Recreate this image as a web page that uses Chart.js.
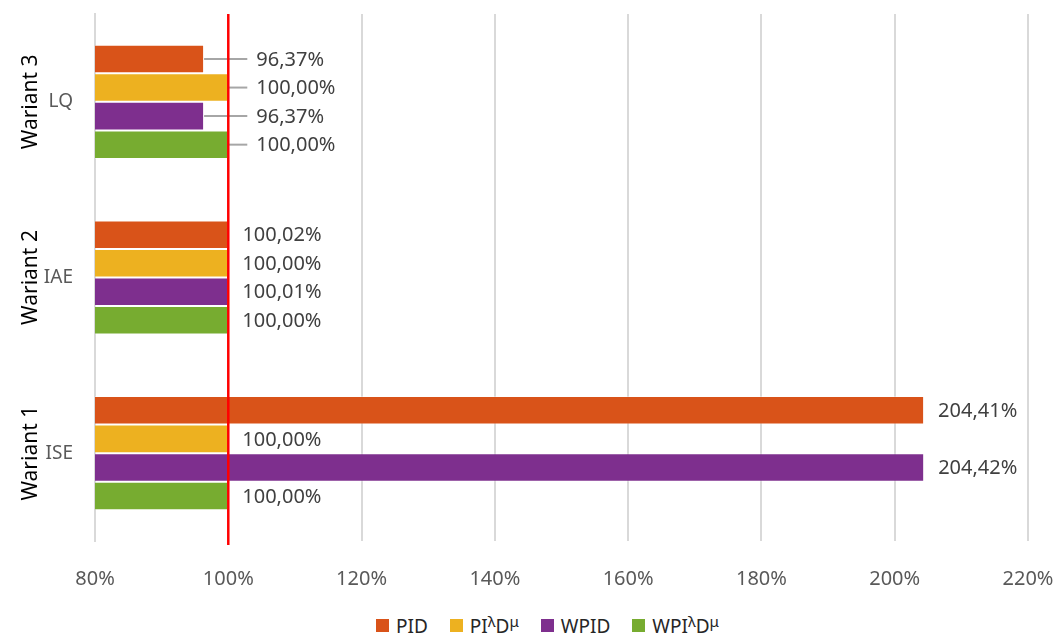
<!DOCTYPE html>
<html>
<head>
<meta charset="utf-8">
<script src="https://cdn.jsdelivr.net/npm/chart.js@4.4.1/dist/chart.umd.min.js"></script>
<style>
  html, body { margin: 0; padding: 0; background: #fff; }
  body { width: 1055px; height: 639px; overflow: hidden; font-family: "Noto Sans", sans-serif; }
  canvas { display: block; }
  #legend { display: flex; justify-content: center; align-items: center; height: 39px; font-size: 19px; color: #262626; padding-left: 40px; margin-top: 6px; }
  .item { display: flex; align-items: center; margin: 0 11px; }
  .box { width: 13px; height: 13px; margin-right: 7px; }
  sup { font-size: 15px; vertical-align: 6px; line-height: 0; }
</style>
</head>
<body>
<canvas id="chart" width="1055" height="600"></canvas>
<div id="legend"></div>
<script>
// categories, top to bottom
const categories = ["LQ", "IAE", "ISE"];
const groupNames = ["Wariant 3", "Wariant 2", "Wariant 1"];

// series values (%)
const pidValues = [96.37, 100.02, 204.41];
const pildmValues = [100.00, 100.00, 100.00];
const wpidValues = [96.37, 100.01, 204.42];
const wpildmValues = [100.00, 100.00, 100.00];

const seriesNames = ["PID", "PI<sup>λ</sup>D<sup>μ</sup>", "WPID", "WPI<sup>λ</sup>D<sup>μ</sup>"];
const seriesLabels = ["PID", "PIλDμ", "WPID", "WPIλDμ"];
const colors = ["#D95319", "#EDB120", "#7E2F8E", "#77AC30"];

// x axis
const xMin = 80, xMax = 220, xStep = 20;
const refLine = 100;

const fmt = (v) => v.toFixed(2).replace(".", ",") + "%";

// value labels; first group gets callout lines
const valueLabels = {
  id: "valueLabels",
  afterDatasetsDraw(chart) {
    const ctx = chart.ctx;
    const x = chart.scales.x;
    ctx.save();
    ctx.font = "20px 'Noto Sans'";
    ctx.fillStyle = "#404040";
    ctx.textBaseline = "middle";
    ctx.textAlign = "left";
    categories.forEach((c, i) => {
      const callout = i === 0;
      chart.data.datasets.forEach((ds, di) => {
        const bar = chart.getDatasetMeta(di).data[i];
        const end = x.getPixelForValue(ds.data[i]);
        let tx = end + 14;
        if (callout) {
          tx = x.getPixelForValue(refLine) + 28;
          ctx.strokeStyle = "#a6a6a6";
          ctx.lineWidth = 2;
          ctx.beginPath();
          ctx.moveTo(end, bar.y);
          ctx.lineTo(tx - 9, bar.y);
          ctx.stroke();
        }
        ctx.fillText(fmt(ds.data[i]), tx, bar.y + 1);
      });
    });
    ctx.restore();
  }
};

// red reference line and group names
const extras = {
  id: "extras",
  afterDatasetsDraw(chart) {
    const ctx = chart.ctx;
    const area = chart.chartArea;
    const px = chart.scales.x.getPixelForValue(refLine);
    ctx.save();
    ctx.strokeStyle = "#ff0000";
    ctx.lineWidth = 2.5;
    ctx.beginPath();
    ctx.moveTo(px, area.top);
    ctx.lineTo(px, area.bottom + 4);
    ctx.stroke();

    ctx.fillStyle = "#000";
    ctx.font = "21px 'Noto Sans'";
    ctx.textAlign = "center";
    ctx.textBaseline = "middle";
    groupNames.forEach((g, i) => {
      const y = chart.scales.y.getPixelForValue(i);
      ctx.save();
      ctx.translate(31, y);
      ctx.rotate(-Math.PI / 2);
      ctx.fillText(g, 0, 0);
      ctx.restore();
    });
    ctx.restore();
  }
};

const datasets = [pidValues, pildmValues, wpidValues, wpildmValues].map((d, i) => ({
  label: seriesLabels[i],
  data: d,
  backgroundColor: colors[i],
  borderColor: "rgba(255,255,255,0.35)",
  borderWidth: 1,
  barPercentage: 1.0,
  categoryPercentage: 0.65
}));

new Chart(document.getElementById("chart"), {
  type: "bar",
  data: { labels: categories, datasets: datasets },
  options: {
    indexAxis: "y",
    responsive: false,
    animation: false,
    layout: { padding: { top: 14, right: 27, bottom: 0, left: 0 } },
    plugins: {
      legend: { display: false },
      tooltip: { enabled: false }
    },
    scales: {
      x: {
        min: xMin,
        max: xMax,
        afterFit: (scale) => {
          scale.height = 59;
          scale.paddingLeft = 0;
          scale.paddingRight = 0;
        },
        ticks: {
          stepSize: xStep,
          padding: 26,
          color: "#595959",
          font: { family: "Noto Sans", size: 20 },
          callback: (v) => v + "%"
        },
        grid: { color: "#d9d9d9", lineWidth: 2, drawTicks: false },
        border: { display: false }
      },
      y: {
        afterFit: (scale) => {
          scale.width = 95;
          scale.paddingTop = 0;
          scale.paddingBottom = 0;
        },
        ticks: {
          padding: 22,
          color: "#595959",
          font: { family: "Noto Sans", size: 19 }
        },
        grid: { display: false, drawTicks: false },
        border: { display: true, color: "#d9d9d9", width: 2 }
      }
    }
  },
  plugins: [valueLabels, extras]
});

// legend with superscripts
const legend = document.getElementById("legend");
seriesNames.forEach((n, i) => {
  const item = document.createElement("div");
  item.className = "item";
  item.innerHTML = '<span class="box" style="background:' + colors[i] + '"></span><span>' + n + "</span>";
  legend.appendChild(item);
});
</script>
</body>
</html>
